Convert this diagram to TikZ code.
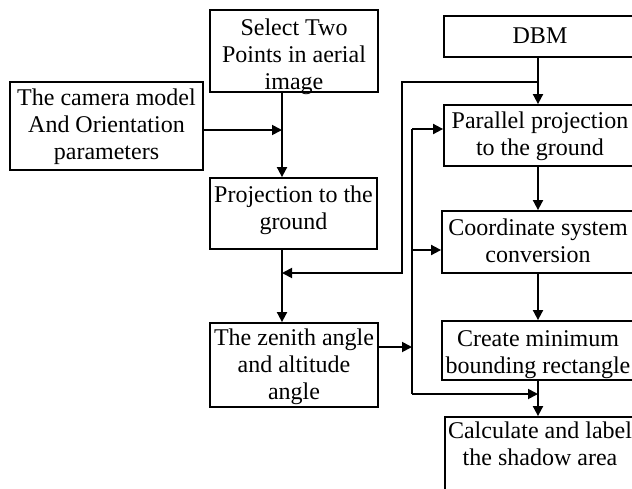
\documentclass[tikz,border=0pt]{standalone}
\usepackage{fontspec}
\setmainfont{Liberation Serif}
\usetikzlibrary{arrows.meta}
\newcommand\mltext[1]{\vtop{\baselineskip=27pt\lineskiplimit=-100pt\halign{\hfil##\hfil\cr#1\crcr}}}
\begin{document}
\begin{tikzpicture}[x=1pt,y=-1pt,
  box/.style={draw, line width=1.8pt, inner sep=0pt, anchor=base, font=\fontsize{24}{27}\selectfont},
  ln/.style={line width=1.8pt},
  arr/.style={line width=1.8pt, -{Triangle[length=10pt,width=10pt]}}]
\useasboundingbox (0,0) rectangle (632,488);
\clip (0,0) rectangle (632,488);
% boxes
\node[box, minimum width=168pt, text height=25pt, text depth=57pt] (sel) at (294,35) {\mltext{Select Two\cr Points in aerial\cr image}};
\node[box, minimum width=193pt, text height=23pt, text depth=65pt] (cam) at (106.5,105) {\mltext{The camera model\cr And Orientation\cr parameters}};
\node[box, minimum width=167pt, text height=24pt, text depth=47pt] (proj) at (293.5,202) {\mltext{Projection to the\cr ground}};
\node[box, minimum width=168pt, text height=22pt, text depth=62pt] (zen) at (294,345) {\mltext{The zenith angle\cr and altitude\cr angle}};
\node[box, minimum width=192pt, text height=27pt, text depth=14pt] (dbm) at (540,43) {\mltext{DBM}};
\node[box, minimum width=192pt, text height=23pt, text depth=38pt] (par) at (540,128) {\mltext{Parallel projection\cr to the ground}};
\node[box, minimum width=192pt, text height=24pt, text depth=38pt] (coo) at (538,235) {\mltext{Coordinate system\cr conversion}};
\node[box, minimum width=192pt, text height=25pt, text depth=34pt] (cre) at (538,346) {\mltext{Create minimum\cr bounding rectangle}};
\node[box, minimum width=190pt, text height=21pt, text depth=62pt] (cal) at (540,438) {\mltext{Calculate and label\cr the shadow area}};
% helper coordinates
\coordinate (xL) at (282,0);
\coordinate (xR) at (538,0);
\coordinate (j1) at (538,82);
\coordinate (j2) at (282,273);
\coordinate (zy) at (0,347);
\coordinate (b0) at (412,347);
\coordinate (b1) at (412,129);
\coordinate (b2) at (412,250);
\coordinate (b3) at (412,394);
% left column
\draw[arr] (xL |- sel.south) -- (xL |- proj.north);
\draw[arr] ([yshift=-4pt]cam.east) -- ([yshift=-4pt]cam.east -| xL);
\draw[arr] (xL |- proj.south) -- (xL |- zen.north);
% right column
\draw[arr] (xR |- dbm.south) -- (xR |- par.north);
\draw[arr] (xR |- par.south) -- (xR |- coo.north);
\draw[arr] (xR |- coo.south) -- (xR |- cre.north);
\draw[arr] (xR |- cre.south) -- (xR |- cal.north);
% feedback from DBM line to the left column
\draw[arr] (j1) -- (402,82) -- (402,273) -- (j2);
% zenith to bus
\draw[arr] (zen.east |- zy) -- (b0);
\draw[ln] (b1) -- (b3);
\draw[arr] (b1) -- (b1 -| par.west);
\draw[arr] (b2) -- (b2 -| coo.west);
\draw[arr] (b3) -- (b3 -| xR);
\end{tikzpicture}
\end{document}
